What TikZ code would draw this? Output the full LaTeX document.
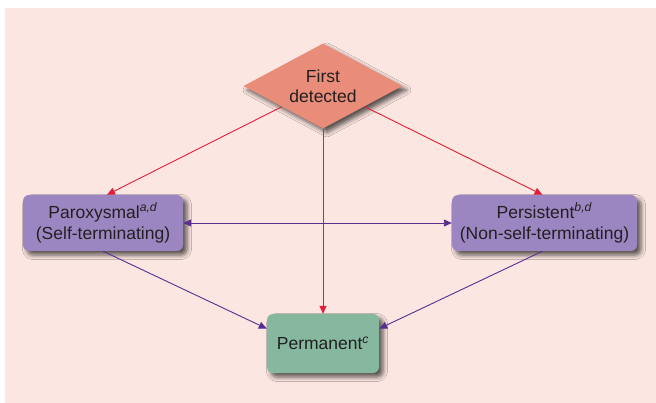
\documentclass[tikz,border=0pt]{standalone}
\usepackage{fontspec}
\setmainfont{Liberation Sans}
\usetikzlibrary{shapes.geometric,arrows.meta,shadows.blur,calc}

\definecolor{paper}{HTML}{FCE6E1}
\definecolor{salmon}{HTML}{E98C7A}
\definecolor{lilac}{HTML}{9C86C1}
\definecolor{sage}{HTML}{85B89F}
\definecolor{redline}{HTML}{E01E37}
\definecolor{violetline}{HTML}{5A2D91}
\definecolor{ink}{HTML}{231F20}

\tikzset{
  boxshadow/.style={blur shadow={shadow xshift=4pt, shadow yshift=-4pt,
      shadow blur radius=4.5pt, shadow opacity=65}},
  labeltext/.style={text=ink, font=\fontsize{17.5}{21}\selectfont, align=center},
  statebox/.style={labeltext, rectangle, rounded corners=6pt, inner sep=0pt, boxshadow},
  decision/.style={labeltext, diamond, aspect=1.88, inner sep=0pt, fill=salmon,
      minimum width=159pt, minimum height=85pt, boxshadow},
  redarrow/.style={draw=redline, line width=0.9pt, -{Triangle[length=8pt,width=7pt]}},
  violetarrow/.style={draw=violetline, line width=0.9pt, -{Triangle[length=8pt,width=7pt]}},
  violetboth/.style={draw=violetline, line width=0.9pt,
      {Triangle[length=8pt,width=7pt]}-{Triangle[length=8pt,width=7pt]}},
}

\begin{document}
\begin{tikzpicture}[x=1pt,y=-1pt]
  \useasboundingbox (0,0) rectangle (656,403);
  \fill[paper] (5,8) rectangle (656,403);

  % states
  \node[decision] (first) at (323,86) {First\\[-1pt]detected};
  \node[statebox, fill=lilac, minimum width=160pt, minimum height=56pt]
    (parox) at (103,223) {Paroxysmal\textsuperscript{\textit{a,d}}\\(Self-terminating)};
  \node[statebox, fill=lilac, minimum width=185pt, minimum height=56pt]
    (persist) at (544.5,223) {Persistent\textsuperscript{\textit{b,d}}\\(Non-self-terminating)};
  \node[statebox, fill=sage, minimum width=112pt, minimum height=59pt]
    (perm) at (323,343.5) {Permanent\textsuperscript{\textit{c}}};

  % transitions
  \draw[redarrow] (first) -- ($(parox.north)+(4,0)$);
  \draw[redarrow] (first) -- ($(persist.north)+(-2,0)$);
  \draw[redarrow] (first.south) -- (perm.north);
  \draw[violetboth] (parox.east) -- (persist.west);
  \draw[violetarrow] (parox.south) -- ($(perm.west)!0.5!(perm.north west)$);
  \draw[violetarrow] ($(persist.south)+(-2,0)$) -- ($(perm.east)!0.5!(perm.north east)$);
\end{tikzpicture}
\end{document}
